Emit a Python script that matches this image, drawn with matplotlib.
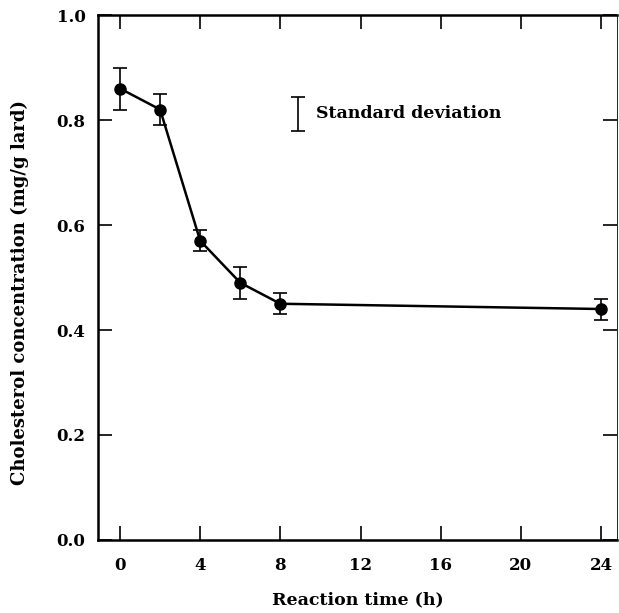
import numpy as np
import matplotlib.pyplot as plt

# Cholesterol in lard vs reaction time
time_h = [0, 2, 4, 6, 8, 24]
chol = [0.86, 0.82, 0.57, 0.49, 0.45, 0.44]
sd = [0.04, 0.03, 0.02, 0.03, 0.02, 0.02]
x_ticks = [0, 4, 8, 12, 16, 20, 24]
y_ticks = [0.0, 0.2, 0.4, 0.6, 0.8, 1.0]

plt.rcParams['font.family'] = ['DejaVu Serif']
plt.rcParams['font.weight'] = 'bold'

fig = plt.figure(figsize=(6.19, 6.13), dpi=100)
ax = fig.add_axes([0.1583, 0.1191, 0.8385, 0.8564])

ax.errorbar(time_h, chol, yerr=sd, color='black', marker='o', markersize=8,
            linewidth=1.8, elinewidth=1.2, capsize=5, capthick=1.2)

# legend-like marker for the standard deviation
ax.errorbar([8.9], [0.812], yerr=[0.032], color='black', linestyle='none',
            elinewidth=1.2, capsize=5, capthick=1.2)
ax.text(9.8, 0.812, 'Standard deviation', fontsize=12.5, fontweight='bold',
        va='center', ha='left')

ax.set_xlim(-1.1, 24.8)
ax.set_ylim(0, 1.0)
ax.set_xticks(x_ticks)
ax.set_yticks(y_ticks)
ax.set_yticklabels(['%.1f' % v for v in y_ticks])
ax.tick_params(direction='in', length=10, width=1.2, top=True, right=True,
               labelsize=12, pad=12)
ax.tick_params(axis='y', pad=9)

for s in ['left', 'bottom', 'top']:
    ax.spines[s].set_linewidth(1.8)
ax.spines['right'].set_linewidth(0.6)

ax.set_xlabel('Reaction time (h)', fontsize=12.5, fontweight='bold', labelpad=13)
ax.set_ylabel('Cholesterol concentration (mg/g lard)', fontsize=13,
              fontweight='bold')
ax.yaxis.set_label_coords(-0.132, 0.472)

fig.savefig('out.png', dpi=100)
